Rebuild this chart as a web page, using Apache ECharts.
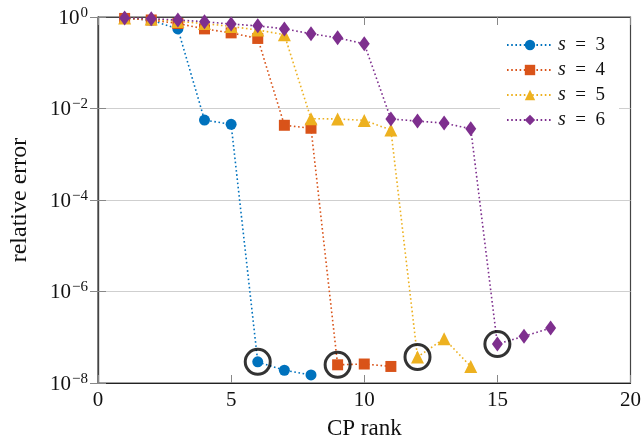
<!DOCTYPE html>
<html><head><meta charset="utf-8">
<script src="https://cdn.jsdelivr.net/npm/echarts@6/dist/echarts.min.js"></script>
<style>html,body{margin:0;padding:0;background:#fff}#c{width:644px;height:445px}</style>
</head><body><div id="c"></div>
<script>
const seriesNames = ['s = 3', 's = 4', 's = 5', 's = 6'];
const err3 = [0.95, 0.85, 0.55, 5.6e-3, 4.5e-3, 2.9e-8, 1.9e-8, 1.5e-8];
const err4 = [0.93, 0.86, 0.72, 0.55, 0.45, 0.34, 4.3e-3, 3.7e-3, 2.5e-8, 2.6e-8, 2.3e-8];
const err5 = [0.95, 0.9, 0.8, 0.72, 0.62, 0.52, 0.41, 6.0e-3, 5.9e-3, 5.5e-3, 3.4e-3, 3.7e-8, 9.3e-8, 2.3e-8];
const err6 = [0.95, 0.92, 0.86, 0.79, 0.70, 0.64, 0.55, 0.43, 0.35, 0.26, 5.9e-3, 5.3e-3, 4.8e-3, 3.6e-3, 7.1e-8, 1.05e-7, 1.6e-7];
const highlightRanks = [6, 9, 12, 15];
const xTicks = [0, 5, 10, 15, 20];
const yTickExps = [0, -2, -4, -6, -8];

const allErr = [err3, err4, err5, err6];
const colors = ['#0072BD', '#D95319', '#EDB120', '#7E2F8E'];
const symbols = ['circle', 'rect', 'triangle', 'diamond'];
const sizes = [11, 11, 13, [11, 15]];
const FONT = '"Liberation Serif", "DejaVu Serif", serif';

const chart = echarts.init(document.getElementById('c'), null, {renderer: 'canvas'});
const series = allErr.map((arr, i) => ({
  name: seriesNames[i],
  type: 'line',
  data: arr.map((v, k) => [k + 1, v]),
  symbol: symbols[i],
  symbolSize: sizes[i],
  showSymbol: true,
  color: colors[i],
  lineStyle: {width: 1.6, type: [1.6, 2.6], color: colors[i]},
  itemStyle: {color: colors[i]},
  z: 2 + i,
  animation: false
}));
series.push({
  name: 'highlight',
  type: 'scatter',
  data: highlightRanks.map((r, i) => [r, allErr[i][r - 1]]),
  symbol: 'circle',
  symbolSize: 25,
  itemStyle: {color: 'rgba(0,0,0,0)', borderColor: '#000', borderWidth: 3},
  z: 10,
  silent: true,
  animation: false
});

const supMap = {'0':'0','-2':'−2','-4':'−4','-6':'−6','-8':'−8'};
chart.setOption({
  animation: false,
  grid: {left: 98, right: 12, top: 17, bottom: 56, show: true, borderColor: '#444', borderWidth: 1.2, backgroundColor: '#fff'},
  legend: {
    data: seriesNames,
    orient: 'vertical',
    left: 500, top: 29,
    itemWidth: 46, itemHeight: 13, itemGap: 5,
    backgroundColor: '#fff',
    padding: [6, 14, 6, 6],
    textStyle: {fontFamily: FONT, fontSize: 19, color: '#111',
      rich: {i: {fontFamily: FONT, fontStyle: 'italic', fontSize: 20, color: '#111'}}},
    formatter: n => '{i|s}  =  ' + n.split('= ')[1]
  },
  xAxis: [{
    type: 'value', min: 0, max: 20, interval: 5,
    name: 'CP rank', nameLocation: 'middle', nameGap: 34,
    nameTextStyle: {fontFamily: FONT, fontSize: 23, color: '#111'},
    axisLine: {show: true, lineStyle: {color: '#222', width: 1.2}},
    axisTick: {show: true, inside: true, length: 8, lineStyle: {color: '#888'}},
    axisLabel: {fontFamily: FONT, fontSize: 21, color: '#111', margin: 7,
      formatter: v => xTicks.includes(v) ? String(v) : ''},
    splitLine: {show: false}
  }, {
    type: 'value', min: 0, max: 20, interval: 5, position: 'top',
    axisLine: {show: true, lineStyle: {color: '#444'}},
    axisTick: {show: true, inside: true, length: 8, lineStyle: {color: '#888'}},
    axisLabel: {show: false}, splitLine: {show: false}
  }],
  yAxis: [{
    type: 'log', logBase: 10, min: 1e-8, max: 1, interval: 2,
    name: 'relative error', nameLocation: 'middle', nameGap: 66, nameRotate: 90,
    nameTextStyle: {fontFamily: FONT, fontSize: 24, color: '#111'},
    axisLine: {show: true, lineStyle: {color: '#444', width: 1.2}},
    axisTick: {show: true, inside: true, length: 8, lineStyle: {color: '#888'}},
    axisLabel: {
      fontFamily: FONT, fontSize: 21, color: '#111', margin: 10,
      formatter: v => {
        const e = Math.round(Math.log10(v));
        if (!yTickExps.includes(e)) return '';
        return '{b|10}{s|' + supMap[String(e)] + '}';
      },
      rich: {
        b: {fontFamily: FONT, fontSize: 21, color: '#111', verticalAlign: 'bottom'},
        s: {fontFamily: FONT, fontSize: 15, color: '#111', verticalAlign: 'bottom', padding: [0, 0, 8, 1]}
      }
    },
    splitLine: {show: true, lineStyle: {color: '#cfcfcf', width: 1.2}}
  }, {
    type: 'log', logBase: 10, min: 1e-8, max: 1, interval: 2, position: 'right',
    axisLine: {show: true, lineStyle: {color: '#444', width: 1.2}},
    axisTick: {show: true, inside: true, length: 8, lineStyle: {color: '#888'}},
    axisLabel: {show: false}, splitLine: {show: false}
  }],
  series: series
});
</script></body></html>
